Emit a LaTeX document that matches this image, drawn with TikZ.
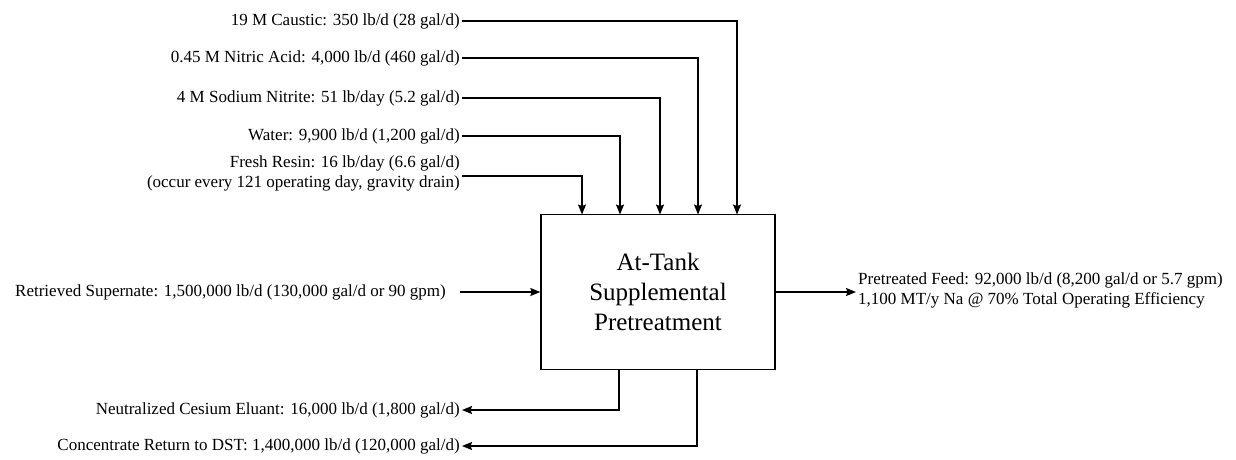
\documentclass[tikz,border=0pt]{standalone}
\usepackage{fontspec}
\setmainfont{Liberation Serif}
\usetikzlibrary{arrows.meta}
\begin{document}
\begin{tikzpicture}[x=1pt,y=-1pt,
  flow/.style={line width=1.4pt,-{Stealth[length=10pt,width=8pt,inset=1.5pt]}},
  lbl/.style={font=\fontsize{17}{20}\selectfont,inner xsep=2pt,inner ysep=0pt},
  procbox/.style={draw,line width=1.4pt,minimum width=234pt,minimum height=155pt,align=center,inner sep=0pt,font=\fontsize{25}{30}\selectfont}]
\useasboundingbox (0,0) rectangle (1236,459);
\node[procbox] (box) at (658,292) {At-Tank\\Supplemental\\Pretreatment};
\coordinate (t1) at (582,214.5);
\coordinate (t2) at (620,214.5);
\coordinate (t3) at (660,214.5);
\coordinate (t4) at (698,214.5);
\coordinate (t5) at (737,214.5);
\node[lbl,anchor=east] (cau) at (462,21) {19 M Caustic: 350 lb/d (28 gal/d)};
\node[lbl,anchor=east] (nit) at (462,58) {0.45 M Nitric Acid: 4,000 lb/d (460 gal/d)};
\node[lbl,anchor=east] (sni) at (462,98) {4 M Sodium Nitrite: 51 lb/day (5.2 gal/d)};
\node[lbl,anchor=east] (wat) at (462,136) {Water: 9,900 lb/d (1,200 gal/d)};
\node[lbl,anchor=east,align=right] (res) at (462,173) {Fresh Resin: 16 lb/day (6.6 gal/d)\\(occur every 121 operating day, gravity drain)};
\coordinate (resl) at (462,176);
\draw[flow] (cau.east) -| (t5);
\draw[flow] (nit.east) -| (t4);
\draw[flow] (sni.east) -| (t3);
\draw[flow] (wat.east) -| (t2);
\draw[flow] (resl) -| (t1);
\node[lbl,anchor=east] (ret) at (448,292) {Retrieved Supernate: 1,500,000 lb/d (130,000 gal/d or 90 gpm)};
\coordinate (rets) at (460,292);
\draw[flow] (rets) -- (box.west);
\node[lbl,anchor=west,align=left] (out) at (856,290) {Pretreated Feed: 92,000 lb/d (8,200 gal/d or 5.7 gpm)\\1,100 MT/y Na @ 70\% Total Operating Efficiency};
\draw[flow] (box.east) -- (box.east -| out.west);
\coordinate (b1) at (619,369.5);
\coordinate (b2) at (697,369.5);
\node[lbl,anchor=east] (neu) at (462,410) {Neutralized Cesium Eluant: 16,000 lb/d (1,800 gal/d)};
\node[lbl,anchor=east] (con) at (462,446) {Concentrate Return to DST: 1,400,000 lb/d (120,000 gal/d)};
\draw[flow] (b1) |- (neu.east);
\draw[flow] (b2) |- (con.east);
\end{tikzpicture}
\end{document}
